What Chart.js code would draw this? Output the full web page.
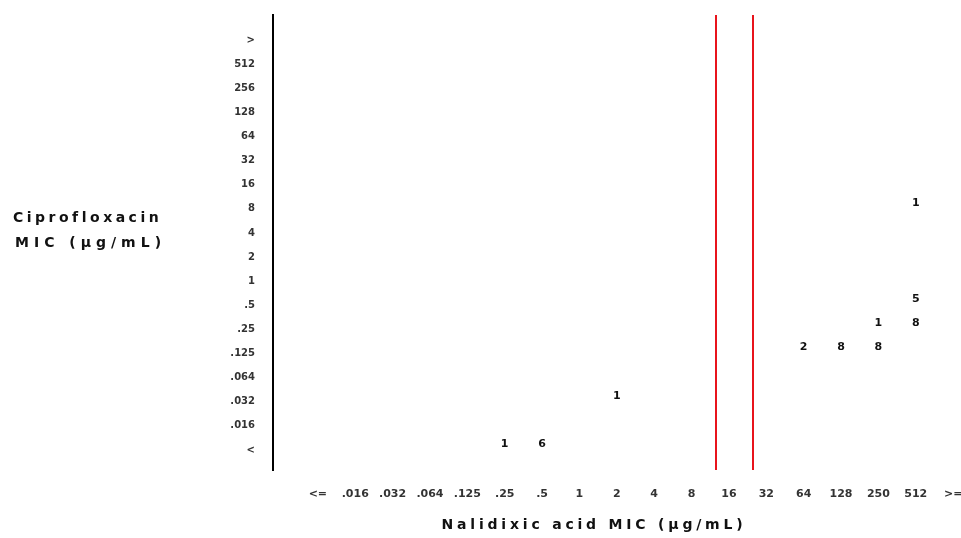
<!DOCTYPE html>
<html>
<head>
<meta charset="utf-8">
<script src="https://cdn.jsdelivr.net/npm/chart.js@4.4.0/dist/chart.umd.min.js"></script>
<style>
html, body { margin: 0; padding: 0; background: #fff; overflow: hidden; }
#wrap { position: relative; width: 961px; height: 538px; }
</style>
</head>
<body>
<div id="wrap"><canvas id="mic"></canvas></div>
<script>
var nalLabels = ['<=', '.016', '.032', '.064', '.125', '.25', '.5', '1', '2', '4', '8', '16', '32', '64', '128', '250', '512', '>='];
var cipLabels = ['<', '.016', '.032', '.064', '.125', '.25', '.5', '1', '2', '4', '8', '16', '32', '64', '128', '256', '512', '>'];

// number of isolates in each filled cell
var cellNal   = ['.25', '.5', '2',    '64',   '128',  '250',  '250', '512', '512', '512'];
var cellCip   = ['<',   '<',  '.032', '.125', '.125', '.125', '.25', '.25', '.5',  '8'];
var cellCount = [1,     6,    1,      2,      8,      8,      1,     8,     5,     1];

// red breakpoint lines sit just right of these nalidixic acid columns
var breakAfter = ['8', '16'];

var points = cellCount.map(function (n, i) {
    return { x: nalLabels.indexOf(cellNal[i]), y: cipLabels.indexOf(cellCip[i]), n: n };
});

var breakLines = {
    id: 'breakLines',
    beforeDatasetsDraw: function (chart) {
        var x = chart.scales.x, a = chart.chartArea, ctx = chart.ctx;
        ctx.save();
        ctx.strokeStyle = '#e8141c';
        ctx.lineWidth = 2;
        breakAfter.forEach(function (lab) {
            var px = Math.round(x.getPixelForValue(nalLabels.indexOf(lab) + 0.65));
            ctx.beginPath();
            ctx.moveTo(px, a.top);
            ctx.lineTo(px, a.bottom);
            ctx.stroke();
        });
        ctx.restore();
    }
};

var countLabels = {
    id: 'countLabels',
    afterDatasetsDraw: function (chart) {
        var ctx = chart.ctx;
        var meta = chart.getDatasetMeta(0);
        ctx.save();
        ctx.font = 'bold 11px "DejaVu Sans"';
        ctx.fillStyle = '#111';
        ctx.textAlign = 'center';
        ctx.textBaseline = 'middle';
        meta.data.forEach(function (pt, i) {
            ctx.fillText(String(points[i].n), pt.x, pt.y - 6);
        });
        ctx.restore();
    }
};

var titles = {
    id: 'titles',
    afterDraw: function (chart) {
        var ctx = chart.ctx;
        ctx.save();
        ctx.font = 'bold 14px "DejaVu Sans"';
        ctx.fillStyle = '#111';
        ctx.textBaseline = 'middle';
        ctx.textAlign = 'left';
        ctx.letterSpacing = '3.5px';
        ctx.fillText('Ciprofloxacin', 13, 218);
        ctx.letterSpacing = '5px';
        ctx.fillText('MIC (µg/mL)', 15, 243);
        ctx.letterSpacing = '3.8px';
        ctx.textAlign = 'center';
        ctx.fillText('Nalidixic acid MIC (µg/mL)', 594, 525);
        ctx.restore();
    }
};

new Chart(document.getElementById('mic'), {
    type: 'scatter',
    data: {
        datasets: [{ data: points, pointRadius: 0, pointHoverRadius: 0 }]
    },
    options: {
        responsive: true,
        maintainAspectRatio: false,
        animation: false,
        events: [],
        layout: { padding: { left: 213, top: 15, right: 0, bottom: 0 } },
        plugins: { legend: { display: false }, tooltip: { enabled: false } },
        scales: {
            x: {
                type: 'linear',
                min: -1.2,
                max: 17.21,
                afterBuildTicks: function (s) { s.ticks = nalLabels.map(function (l, i) { return { value: i }; }); },
                afterFit: function (s) { s.height = 68; s.paddingLeft = 0; s.paddingRight = 0; },
                grid: { display: false },
                border: { display: false },
                ticks: {
                    padding: 0,
                    autoSkip: false,
                    maxRotation: 0,
                    color: '#333',
                    font: { family: 'DejaVu Sans', size: 11, weight: 'bold', lineHeight: '32px' },
                    callback: function (v) { return nalLabels[v]; }
                }
            },
            y: {
                type: 'linear',
                min: -0.83,
                max: 18.04,
                afterBuildTicks: function (s) { s.ticks = cipLabels.map(function (l, i) { return { value: i }; }); },
                afterFit: function (s) { s.width = 60; s.paddingTop = 0; s.paddingBottom = 0; },
                grid: { display: false },
                border: { display: true, color: '#000', width: 2 },
                ticks: {
                    padding: 10,
                    autoSkip: false,
                    color: '#333',
                    font: { family: 'DejaVu Sans', size: 10, weight: 'bold' },
                    callback: function (v) { return cipLabels[v]; }
                }
            }
        }
    },
    plugins: [breakLines, countLabels, titles]
});
</script>
</body>
</html>
